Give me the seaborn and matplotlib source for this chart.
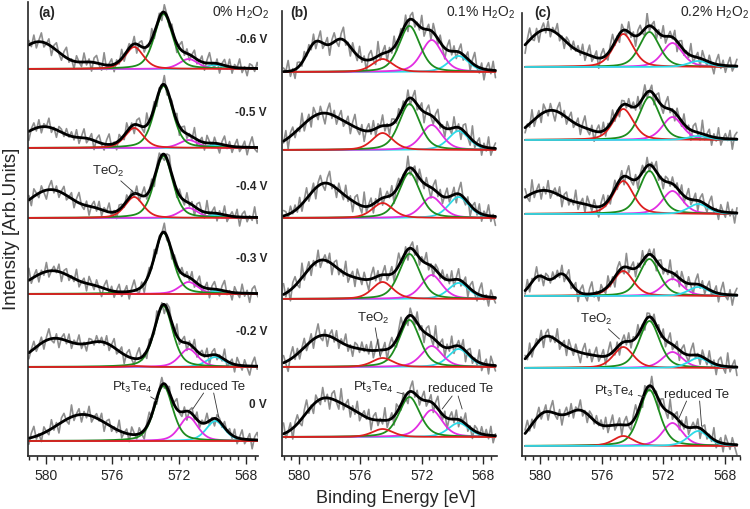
import numpy as np
import pandas as pd
import matplotlib
matplotlib.use('Agg')
import matplotlib.pyplot as plt
from matplotlib.ticker import MultipleLocator
import seaborn as sns

# ---- data ----
voltages = ['-0.6 V', '-0.5 V', '-0.4 V', '-0.3 V', '-0.2 V', '0 V']
panel_tags = ['(a)', '(b)', '(c)']
panel_titles = ['0% H$_2$O$_2$', '0.1% H$_2$O$_2$', '0.2% H$_2$O$_2$']

# peak centres (eV): TeO2, Pt3Te4, reduced Te (1), reduced Te (2)
centres_a = [574.7, 572.95, 571.45, 569.85]
centres_b = [574.55, 572.8, 571.35, 569.6]
centres_c = [574.6, 572.9, 571.4, 569.72]
fwhm_a = 1.3
fwhm_b = 1.6
fwhm_c = 1.55

# peak heights per spectrum (-0.6 V ... 0 V): red, green, magenta, cyan
heights_a = [[22, 55, 10, 4], [20, 62, 8, 3], [21, 62, 10, 3],
             [0, 61, 12, 3], [1, 61, 18, 10], [0, 55, 24, 20]]
heights_b = [[13, 46, 32, 16], [17, 46, 25, 19], [15, 45, 21, 21],
             [17, 45, 24, 16], [9, 47, 21, 18], [8, 40, 27, 14]]
heights_c = [[33, 35, 24, 6], [31, 43, 23, 4], [33, 43, 23, 10],
             [25, 37, 17, 9], [21, 47, 16, 10], [10, 56, 23, 15]]

# broad high-BE features, only part of the total fit: (centre, height, fwhm)
humps_a = [[(580.4, 27, 2.8), (577.3, 5, 1.5)],
           [(580.1, 21, 3.0), (577.5, 6, 1.5)],
           [(579.7, 28, 3.2), (577.0, 5, 1.5)],
           [(579.6, 23, 3.2), (577.0, 4, 1.5)],
           [(579.5, 28, 3.0), (576.6, 22, 2.4)],
           [(577.8, 26, 3.5)]]
humps_b = [[(578.9, 28, 1.4), (577.3, 30, 1.6), (576.1, 6, 1.5)],
           [(578.4, 36, 3.6), (576.1, 6, 1.8)],
           [(578.3, 34, 2.6), (576.4, 6, 1.6)],
           [(578.5, 38, 2.8), (576.1, 12, 2.0)],
           [(578.4, 31, 3.0), (575.9, 10, 2.0)],
           [(578.55, 34, 2.6), (576.5, 20, 2.6)]]
humps_c = [[(579.6, 37, 3.2), (576.9, 5, 1.5)],
           [(579.3, 29, 3.0), (576.9, 4, 1.5)],
           [(579.8, 23, 3.4), (577.1, 4, 1.5)],
           [(580.1, 19, 1.3), (578.6, 21, 1.3)],
           [(579.7, 28, 2.0), (577.9, 14, 2.4), (576.3, 5, 1.5)],
           [(579.7, 32, 2.2), (577.4, 33, 2.2), (575.4, 10, 1.6)]]

# vertical stacking offsets of the spectra
offsets_a = [387, 308, 238, 162, 89, 15]
offsets_b = [384, 306, 238, 157, 89, 19]
offsets_c = [389, 316, 242, 160, 88, 10]

# measured-signal scatter around the fit (hand read, arb. units)
noise = [3, -2, 5, -4, 1, 6, -3, 0, 4, -6,
         2, 5, -1, -4, 3, 7, -2, 1, -5, 4,
         0, -3, 6, -2, 2, -6, 3, 5, -1, -4,
         8, -3, 1, 4, -5, 2, -2, 6, -4, 0,
         3, -1, 5, -6, 2, 4, -3, 1, -2, 7,
         -4, 0, 3, -5, 5, 1, -3, 4, -1, -6,
         2, 6, -2, 3, -4, 1, 5, -3, 0, 4,
         -5, 2, 7, -1, -3, 3, -6, 1, 4, -2,
         5, -4, 2, 0, 6, -3, 1, -5, 3, 2,
         -2, 4, -1]
noise_shift = [[0, 17, 41, 63, 29, 80], [11, 52, 5, 71, 36, 88], [23, 47, 66, 14, 58, 33]]
noise_scale = [1.5, 1.8, 1.7]

panels = [
    (centres_a, fwhm_a, heights_a, humps_a, offsets_a),
    (centres_b, fwhm_b, heights_b, humps_b, offsets_b),
    (centres_c, fwhm_c, heights_c, humps_c, offsets_c),
]

comp_colors = ['#dd1f1f', '#1e8c1e', '#e22ee2', '#2ddbe8']


def pvoigt(x, c, h, w, eta=0.4):
    u = (x - c) / w
    return h * (eta / (1 + 4 * u ** 2) + (1 - eta) * np.exp(-4 * np.log(2) * u ** 2))


def gauss(x, c, h, w):
    return h * np.exp(-4 * np.log(2) * ((x - c) / w) ** 2)


def total(x, cen, fw, hts, hmp):
    y = sum(pvoigt(x, c, h, fw) for c, h in zip(cen, hts))
    return y + sum(gauss(x, c, h, w) for c, h, w in hmp)


sns.set_style('ticks')
plt.rcParams['font.family'] = ['Liberation Sans', 'DejaVu Sans']
plt.rcParams['mathtext.fontset'] = 'custom'
plt.rcParams['mathtext.rm'] = 'Liberation Sans'
plt.rcParams['mathtext.it'] = 'Liberation Sans:italic'

W, H = 750, 510
fig = plt.figure(figsize=(7.5, 5.1), dpi=100)

ax_px = [(28, 258, 3), (282, 497, 12), (522, 740, 14)]
xlims = [(581.05, 567.3), (581.1, 567.1), (581.2, 567.0)]
bottom_px = 457

energy = np.linspace(581.0, 567.2, len(noise))
fine = np.linspace(581.0, 567.2, 320)

for p, (cen, fw, hts, hmps, offs) in enumerate(panels):
    l, r, t = ax_px[p]
    ax = fig.add_axes([l / W, 1 - bottom_px / H, (r - l) / W, (bottom_px - t) / H])

    rows = []
    for i in range(6):
        fit = total(fine, cen, fw, hts[i], hmps[i]) + offs[i]
        scatter = noise_scale[p] * np.roll(np.array(noise, float), noise_shift[p][i])
        meas = total(energy, cen, fw, hts[i], hmps[i]) + offs[i] + scatter
        rows.append(pd.DataFrame({'spec': i, 'be': energy, 'y': meas, 'kind': 'data'}))
        rows.append(pd.DataFrame({'spec': i, 'be': fine, 'y': fit, 'kind': 'fit'}))
        for k in range(4):
            comp = pvoigt(fine, cen[k], hts[i][k], fw) + offs[i]
            rows.append(pd.DataFrame({'spec': i, 'be': fine, 'y': comp, 'kind': 'c%d' % k}))
    df = pd.concat(rows, ignore_index=True)

    sns.lineplot(data=df[df.kind == 'data'], x='be', y='y', units='spec', estimator=None,
                 sort=False, color='#8e8e8e', lw=1.2, ax=ax)
    order = [3, 2, 1, 0] if p < 2 else [2, 1, 0, 3]
    for k in order:
        sns.lineplot(data=df[df.kind == 'c%d' % k], x='be', y='y', units='spec', estimator=None,
                     sort=False, color=comp_colors[k], lw=1.3, ax=ax)
    sns.lineplot(data=df[df.kind == 'fit'], x='be', y='y', units='spec', estimator=None,
                 sort=False, color='black', lw=2.0, ax=ax)

    ax.set_xlim(*xlims[p])
    ax.set_ylim(0, bottom_px - t)
    ax.set_yticks([])
    ax.set_xticks([580, 576, 572, 568])
    ax.xaxis.set_minor_locator(MultipleLocator(0.5))
    ax.tick_params(axis='x', which='major', length=5.5, width=1, labelsize=10, pad=3, direction='out')
    ax.tick_params(axis='x', which='minor', length=3, width=1, direction='out')
    ax.set_xlabel('')
    ax.set_ylabel('')
    sns.despine(ax=ax)
    ax.spines['left'].set_linewidth(1.2)
    ax.spines['bottom'].set_linewidth(1.2)

    tag_x = [38, 290, 534][p]
    ttl_x = [212, 446, 680][p]
    fig.text(tag_x / W, 1 - 13 / H, panel_tags[p], fontsize=10, fontweight='bold', va='center')
    fig.text(ttl_x / W, 1 - 13 / H, panel_titles[p], fontsize=10, va='center')

    akw = dict(arrowprops=dict(arrowstyle='-', color='#333333', lw=0.6, shrinkA=0, shrinkB=0))
    tkw = dict(fontsize=9.5, ha='center', va='center')
    if p == 0:
        ax.annotate('TeO$_2$', xy=(574.62, 262), xytext=(576.23, 286), **tkw, **akw)
        ax.annotate('Pt$_3$Te$_4$', xy=(573.3, 55), xytext=(574.8, 70), **tkw, **akw)
        ax.text(570.0, 70, 'reduced Te', **tkw)
        ax.annotate('', xy=(571.2, 47), xytext=(570.55, 63), **akw)
        ax.annotate('', xy=(569.65, 39), xytext=(569.95, 63), **akw)
    elif p == 1:
        ax.annotate('TeO$_2$', xy=(574.7, 99), xytext=(575.15, 139), **tkw, **akw)
        ax.annotate('Pt$_3$Te$_4$', xy=(573.2, 62), xytext=(575.15, 70), **tkw, **akw)
        ax.text(569.5, 68, 'reduced Te', **tkw)
        ax.annotate('', xy=(570.67, 47), xytext=(570.02, 60), **akw)
        ax.annotate('', xy=(569.37, 47), xytext=(569.63, 60), **akw)
    else:
        ax.annotate('TeO$_2$', xy=(574.85, 117), xytext=(576.35, 138), **tkw, **akw)
        ax.annotate('Pt$_3$Te$_4$', xy=(573.2, 59), xytext=(575.17, 66), **tkw, **akw)
        ax.text(569.8, 62, 'reduced Te', **tkw)
        ax.annotate('', xy=(571.06, 35), xytext=(570.48, 55), **akw)
        ax.annotate('', xy=(569.5, 30), xytext=(569.63, 55), **akw)

for v, yv in zip(voltages, [40, 113, 187, 259, 332, 405]):
    fig.text(267 / W, 1 - yv / H, v, fontsize=8.5, fontweight='bold', ha='right', va='center')

fig.text(12 / W, 1 - 229 / H, 'Intensity [Arb.Units]', fontsize=13.5, rotation=90, ha='center', va='center')
fig.text(396 / W, 1 - 499 / H, 'Binding Energy [eV]', fontsize=13, ha='center', va='center')

fig.savefig('out.png', dpi=100)
